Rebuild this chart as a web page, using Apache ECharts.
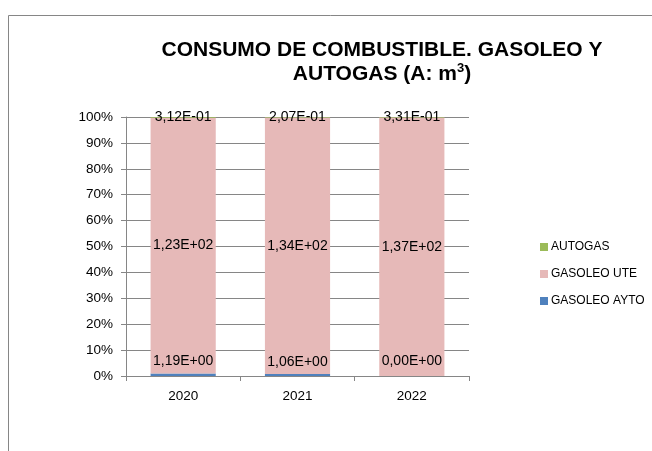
<!DOCTYPE html>
<html>
<head>
<meta charset="utf-8">
<script src="https://cdn.jsdelivr.net/npm/echarts@6/dist/echarts.min.js"></script>
<style>
    html, body { margin: 0; padding: 0; background: #fff; }
    #chart { width: 652px; height: 451px; }
</style>
</head>
<body>
<div id="chart"></div>
<script>
// datos (A: m3)
const years = ['2020', '2021', '2022'];
const gasoleoAyto = [1.19, 1.06, 0.00];
const gasoleoUte = [123, 134, 137];
const autogas = [0.312, 0.207, 0.331];
const yTicks = [0, 10, 20, 30, 40, 50, 60, 70, 80, 90, 100];

const totals = years.map((y, i) => gasoleoAyto[i] + gasoleoUte[i] + autogas[i]);

// 1,19E+00 como en Excel
function sci(v) {
    let s = v.toExponential(2);
    let [m, e] = s.split('e');
    let sign = e[0] === '-' ? '-' : '+';
    let d = e.replace(/[+-]/, '');
    if (d.length < 2) d = '0' + d;
    return m.replace('.', ',') + 'E' + sign + d;
}

const gray = '#868686';
const labelFont = { fontFamily: 'Liberation Sans', fontSize: 14, color: '#000' };

function makeSeries(name, raw, color, pos) {
    return {
        name: name,
        type: 'bar',
        stack: 'total',
        barCategoryGap: '43%',
        itemStyle: { color: color },
        label: Object.assign({
            show: true,
            position: pos,
            distance: 5,
            formatter: p => sci(raw[p.dataIndex])
        }, labelFont),
        // en Excel la etiqueta de un valor 0 queda algo mas arriba
        data: raw.map((v, i) => {
            let p = v / totals[i] * 100;
            return (pos === 'top' && v === 0) ? { value: p, label: { distance: 8 } } : p;
        })
    };
}

var myChart = echarts.init(document.getElementById('chart'));
myChart.setOption({
    animation: false,
    title: {
        text: 'CONSUMO DE COMBUSTIBLE. GASOLEO Y\nAUTOGAS (A: m{sup|3})',
        left: 377,
        top: 33,
        textAlign: 'center',
        textStyle: {
            fontFamily: 'Liberation Sans',
            fontWeight: 'bold',
            fontSize: 21,
            lineHeight: 24,
            color: '#000',
            rich: {
                sup: {
                    fontFamily: 'Liberation Sans',
                    fontWeight: 'bold',
                    fontSize: 13,
                    color: '#000',
                    verticalAlign: 'top',
                    lineHeight: 24
                }
            }
        }
    },
    graphic: [{
        type: 'rect',
        shape: { x: 8.5, y: 15.5, width: 700, height: 500 },
        style: { fill: 'none', stroke: gray, lineWidth: 1 },
        silent: true
    }],
    legend: {
        orient: 'vertical',
        left: 535,
        top: 236,
        itemWidth: 8,
        itemHeight: 8,
        itemGap: 15,
        icon: 'rect',
        data: ['AUTOGAS', 'GASOLEO UTE', 'GASOLEO AYTO'],
        textStyle: { fontFamily: 'Liberation Sans', fontSize: 12, color: '#000', padding: [0, 0, 0, -2] }
    },
    grid: { left: 126, right: 183, top: 117, bottom: 75 },
    xAxis: {
        type: 'category',
        data: years,
        axisLine: { lineStyle: { color: gray } },
        axisTick: { show: true, length: 5, lineStyle: { color: gray } },
        axisLabel: { margin: 13, fontFamily: 'Liberation Sans', fontSize: 13.5, color: '#000' }
    },
    yAxis: {
        type: 'value',
        min: yTicks[0],
        max: yTicks[yTicks.length - 1],
        interval: 10,
        axisLine: { show: true, lineStyle: { color: gray } },
        axisTick: { show: true, length: 5, lineStyle: { color: gray } },
        splitLine: { lineStyle: { color: gray } },
        axisLabel: { margin: 13, formatter: '{value}%', fontFamily: 'Liberation Sans', fontSize: 13.5, color: '#000' }
    },
    series: [
        makeSeries('GASOLEO AYTO', gasoleoAyto, '#4F81BD', 'top'),
        makeSeries('GASOLEO UTE', gasoleoUte, '#E6B9B8', 'inside'),
        makeSeries('AUTOGAS', autogas, '#9BBB59', 'inside')
    ]
});
</script>
</body>
</html>
